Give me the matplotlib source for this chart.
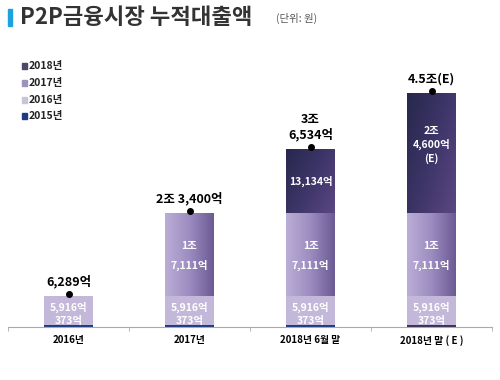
import matplotlib
matplotlib.use("Agg")
import matplotlib.pyplot as plt
import numpy as np
from matplotlib.colors import LinearSegmentedColormap
from matplotlib.patches import Rectangle

plt.rcParams['font.family'] = ['Noto Sans CJK KR', 'DejaVu Sans']

categories = ['2016년', '2017년', '2018년 6월 말', '2018년 말 ( E )']
s2015 = [373, 373, 373, 373]
s2016 = [5916, 5916, 5916, 5916]
s2017 = [0, 17111, 17111, 17111]
s2018 = [0, 0, 13134, 24600]
total_labels = ['6,289억', '2조 3,400억', '3조\n6,534억', '4.5조(E)']
lab2015 = ['373억'] * 4
lab2016 = ['5,916억'] * 4
lab2017 = ['', '1조\n7,111억', '1조\n7,111억', '1조\n7,111억']
lab2018 = ['', '', '13,134억', '2조\n4,600억\n(E)']
legend_labels = ['2018년', '2017년', '2016년', '2015년']

fig = plt.figure(figsize=(5, 3.8), dpi=100)
fig.patch.set_facecolor('white')
ax = fig.add_axes([0.016, 0.1395, 0.968, 0.7026])
ax.set_xlim(-0.5, 3.5)
ax.set_ylim(0, 54800)
ppx = 54800 / 267.0

x = np.arange(len(categories))
w = 0.40

c2015 = ['#203b86', '#203b86', '#203b86', '#3b3358']
c2016 = '#c3b8da'
cmap17 = LinearSegmentedColormap.from_list('g17', ['#bbaed6', '#9c8cc0', '#6c5a94'])
cmap18 = LinearSegmentedColormap.from_list('g18', ['#27284c', '#3d3568', '#5b4782'])

b15 = ax.bar(x, s2015, w, color=c2015, zorder=2)
b16 = ax.bar(x, s2016, w, bottom=s2015, color=c2016, zorder=2)
bot17 = np.array(s2015) + np.array(s2016)
b17 = ax.bar(x, s2017, w, bottom=bot17, color='none', zorder=2)
bot18 = bot17 + np.array(s2017)
b18 = ax.bar(x, s2018, w, bottom=bot18, color='none', zorder=2)

gx = np.linspace(0, 1, 100)
grad_h = np.tile(gx, (50, 1))
gy = np.linspace(0, 1, 50)[:, None]
grad_d = np.clip(0.6 * grad_h + 0.4 * (1 - gy), 0, 1)
for rect in b17:
    if rect.get_height() <= 0:
        continue
    x0, y0 = rect.get_x(), rect.get_y()
    im = ax.imshow(grad_h, cmap=cmap17, aspect='auto', origin='lower',
                   extent=[x0, x0 + rect.get_width(), y0, y0 + rect.get_height()], zorder=2)
    im.set_clip_path(rect)
for rect in b18:
    if rect.get_height() <= 0:
        continue
    x0, y0 = rect.get_x(), rect.get_y()
    im = ax.imshow(grad_d, cmap=cmap18, aspect='auto', origin='lower',
                   extent=[x0, x0 + rect.get_width(), y0, y0 + rect.get_height()], zorder=2)
    im.set_clip_path(rect)
ax.set_xlim(-0.5, 3.5)
ax.set_ylim(0, 54800)

wt = dict(color='white', fontweight='bold', fontsize=7.5, ha='center', va='center', zorder=5)
for i in range(len(categories)):
    top16 = bot17[i]
    ax.text(x[i], top16 - 11 * ppx, lab2016[i], **wt)
    ax.text(x[i], top16 - 25 * ppx, lab2015[i], **wt)
    if s2017[i] > 0:
        ax.text(x[i], bot17[i] + s2017[i] - 43 * ppx, lab2017[i], linespacing=1.9, **wt)
    if s2018[i] > 0:
        ax.text(x[i], bot18[i] + s2018[i] / 2 + 8 * ppx if i == 3 else bot18[i] + s2018[i] / 2,
                lab2018[i], linespacing=1.35, **wt)
    total = bot18[i] + s2018[i]
    ax.plot(x[i], total + 2 * ppx, 'o', color='black', ms=4, zorder=6, clip_on=False)
    ax.text(x[i], total + 8 * ppx, total_labels[i], ha='center', va='bottom',
            fontsize=9, fontweight='bold', color='black', linespacing=1.15, zorder=6)

ax.set_xticks(x)
ax.set_xticklabels(categories, fontsize=7, fontweight='bold')
ax.tick_params(axis='x', length=0, pad=6)
ax.set_xticks([-0.5, 0.5, 1.5, 2.5, 3.5], minor=True)
ax.tick_params(axis='x', which='minor', length=3, color='#aaaaaa')
ax.set_yticks([])
for s in ['top', 'right', 'left']:
    ax.spines[s].set_visible(False)
ax.spines['bottom'].set_color('#aaaaaa')
ax.spines['bottom'].set_linewidth(0.8)

# title
fig.patches.append(Rectangle((8 / 500, 1 - 26 / 380), 4 / 500, 17 / 380,
                             transform=fig.transFigure, color='#1ca3df', figure=fig))
fig.text(20 / 500, 1 - 17 / 380, 'P2P금융시장 누적대출액', fontsize=16, fontweight='bold',
         color='#333333', va='center', ha='left')
fig.text(276 / 500, 1 - 18 / 380, '(단위: 원)', fontsize=7.5, color='#555555', va='center', ha='left')

# legend
leg_colors = ['#4b4868', '#9d93ba', '#c9c4da', '#1f3b80']
leg_y = [66, 83, 100, 116]
for lab, col, yy in zip(legend_labels, leg_colors, leg_y):
    fig.patches.append(Rectangle((22 / 500, 1 - (yy + 2.5) / 380), 5 / 500, 5 / 380,
                                 transform=fig.transFigure, color=col, figure=fig))
    fig.text(29 / 500, 1 - yy / 380, lab, fontsize=7.5, fontweight='bold', color='#222222',
             va='center', ha='left')

fig.savefig('out.png', dpi=100, facecolor='white')
